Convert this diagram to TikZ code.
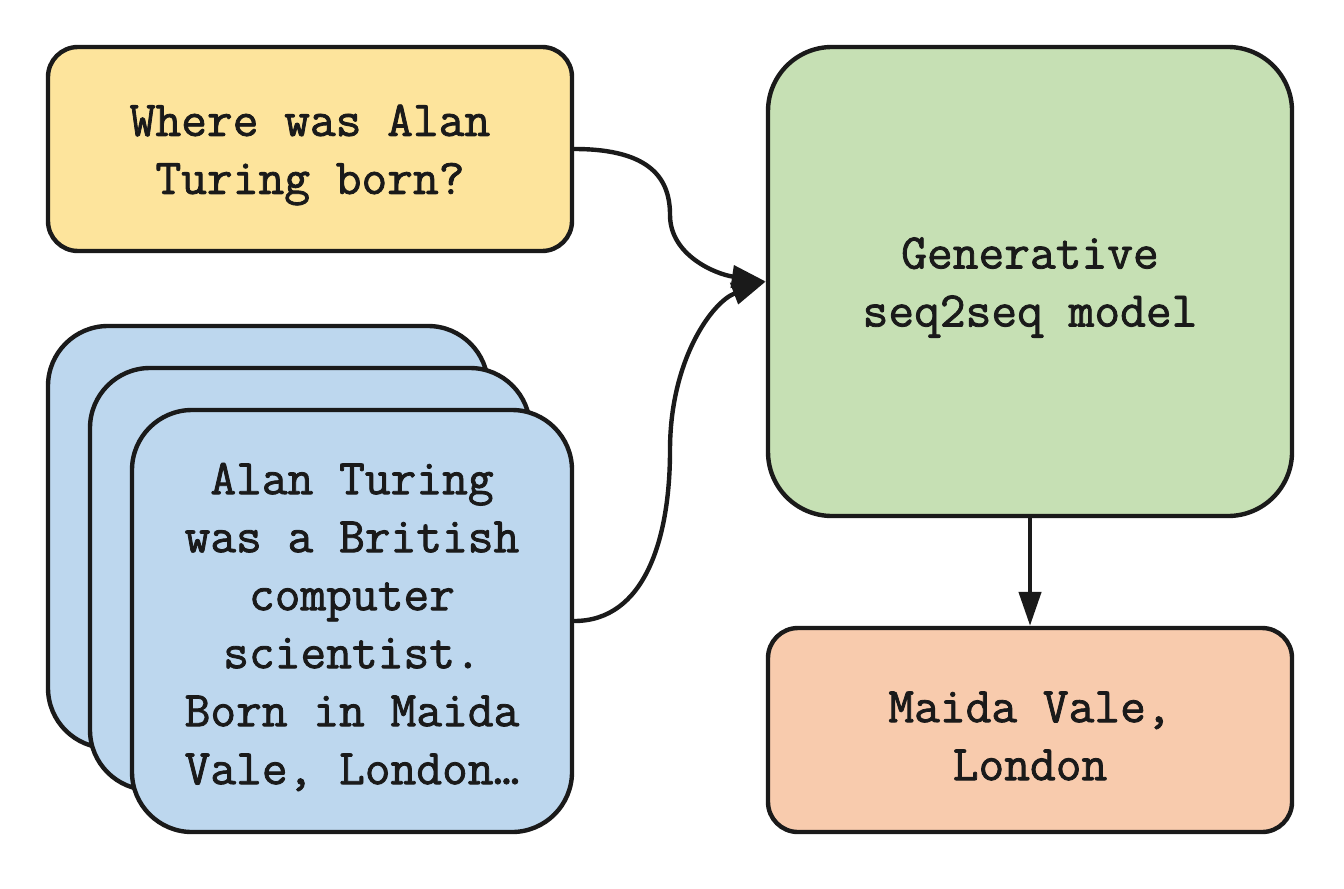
\documentclass[tikz,border=0pt]{standalone}
\usepackage{fontspec}
\newfontfamily\boxfont{Latin Modern Mono}[AutoFakeBold=1.6]
\usetikzlibrary{arrows.meta}
\definecolor{ink}{HTML}{1A1A1A}
\definecolor{yfill}{HTML}{FDE49C}
\definecolor{gfill}{HTML}{C6E0B4}
\definecolor{bfill}{HTML}{BDD7EE}
\definecolor{ofill}{HTML}{F8CBAD}
\tikzset{
  box/.style={draw=ink, line width=1.1pt, inner sep=0pt},
  boxtext/.style={text=ink, align=center, inner sep=0pt, yshift=-1.5pt,
    font=\boxfont\bfseries\fontsize{12.5}{14.5}\selectfont},
  smallbox/.style={box, minimum width=131pt, minimum height=51pt, rounded corners=7.5pt},
  card/.style={box, fill=bfill, minimum width=110pt, minimum height=105.5pt, rounded corners=15pt},
  conn/.style={draw=ink, line width=1.1pt, -{Triangle[length=8.5pt,width=5.5pt]}},
}
\begin{document}
\begin{tikzpicture}[x=0.25pt, y=-0.25pt]
\useasboundingbox (0,0) rectangle (1344,888);
\node[smallbox, fill=yfill, label={[boxtext]center:{Where was Alan\\Turing born?}}] (q) at (310,149) {};
\node[box, fill=gfill, minimum width=131pt, minimum height=117.25pt, rounded corners=16pt,
  label={[boxtext]center:{Generative\\seq2seq model}}] (m) at (1030,281.5) {};
\node[smallbox, fill=ofill, label={[boxtext]center:{Maida Vale,\\London}}] (a) at (1030,730) {};
\node[card] (c3) at (268,537) {};
\node[card] (c2) at (310,579) {};
\node[card, label={[boxtext]center:{Alan Turing\\was a British\\computer\\scientist.\\Born in Maida\\Vale, London\dots}}] (c1) at (352,621) {};
\coordinate (ci) at (m.west);
\draw[conn] (q.east) .. controls +(78,0) and (670,180) .. (670,215) .. controls (670,255) and (715,274) .. (ci);
\draw[conn] (c1.east) .. controls +(70,0) and (670,540) .. (670,450) .. controls (670,360) and (712,302) .. (ci);
\draw[conn] (m.south) -- (a.north);
\end{tikzpicture}
\end{document}
